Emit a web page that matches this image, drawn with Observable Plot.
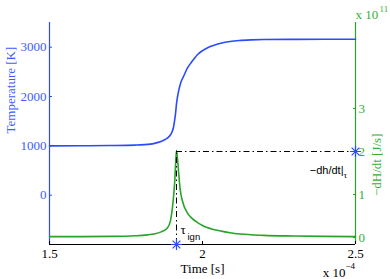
<!DOCTYPE html>
<html><head><meta charset="utf-8">
<script src="https://cdn.jsdelivr.net/npm/d3@7"></script>
<script src="https://cdn.jsdelivr.net/npm/@observablehq/plot@0.6"></script>
<style>
body{margin:0;background:#fff}
#chart svg, #chart svg text{font-family:'Liberation Serif','Times New Roman','DejaVu Serif',Times,serif}
#chart svg text.sans{font-family:'Liberation Sans',Arial,Helvetica,sans-serif}
</style>
</head><body><div id="chart"></div>
<script>
// Temperature trace (time in units of 1e-4 s)
const timeT = [1.50,1.60,1.70,1.78,1.83,1.852,1.870,1.885,1.895,1.901,1.906,1.909,1.912,1.915,1.9185,1.9226,1.927,1.932,1.939,1.951,1.962,1.972,1.984,2.000,2.020,2.040,2.060,2.090,2.120,2.160,2.200,2.300,2.400,2.500];
const tempK = [1000,1002,1006,1015,1035,1065,1105,1155,1220,1290,1400,1520,1660,1850,2000,2130,2240,2330,2420,2580,2680,2760,2850,2930,3000,3045,3080,3115,3135,3148,3154,3158,3160,3160];
// Heat release rate trace (x 1e11 J/s)
const timeH = [1.50,1.60,1.70,1.78,1.82,1.841,1.865,1.885,1.895,1.901,1.906,1.9095,1.912,1.915,1.918,1.9225,1.927,1.934,1.950,1.965,1.983,2.000,2.015,2.040,2.060,2.090,2.124,2.200,2.300,2.400,2.500];
const heatRate = [0.02,0.021,0.025,0.04,0.06,0.08,0.13,0.22,0.38,0.65,1.0,1.33,1.7,2.02,1.85,1.47,1.12,0.86,0.58,0.45,0.35,0.28,0.23,0.18,0.15,0.11,0.08,0.05,0.035,0.025,0.02];

const xTicks = [1.5, 2, 2.5];
const leftTicks = [0, 1000, 2000, 3000];
const rightTicks = [0, 1, 2, 3];
const tauIgn = 1.915;
const peakRate = 2.0;

const leftDomain = [-1000, 3500];
const rightDomain = [-0.163, 5.0];
const toLeft = d3.scaleLinear().domain(rightDomain).range(leftDomain);

const blue = "#2a4bff", blueText = "#3d5cff";
const green = "#29a329", greenText = "#33b033";

const tempData = timeT.map((t, i) => ({t, v: tempK[i]}));
const heatData = timeH.map((t, i) => ({t, v: toLeft(heatRate[i])}));
const dash = "6,3,1.5,3";

const chart = Plot.plot({
  width: 390, height: 279,
  marginLeft: 49, marginRight: 35, marginTop: 22, marginBottom: 35,
  style: {fontSize: "13px", background: "white", overflow: "visible"},
  x: {domain: [1.5, 2.5], axis: null},
  y: {domain: leftDomain, axis: null},
  marks: [
    Plot.ruleY([-1000], {stroke: "black", strokeWidth: 1.2}),
    Plot.ruleX([1.5], {stroke: blue, strokeWidth: 1.2}),
    Plot.ruleX([2.5], {stroke: green, strokeWidth: 1.2}),
    Plot.axisX(xTicks, {anchor: "bottom", tickSize: 3, dy: -3, fill: "none", stroke: "black"}),
    Plot.axisY(leftTicks, {anchor: "left", tickSize: 3, dx: 3, fill: "none", stroke: blue}),
    Plot.axisY(rightTicks.map(toLeft), {anchor: "right", tickSize: 3, dx: -3, fill: "none", stroke: green}),
    Plot.axisX(xTicks, {anchor: "bottom", tickSize: 0, tickPadding: 4, fill: "black", fontSize: 13, label: null, tickFormat: d => String(d)}),
    Plot.axisY(leftTicks, {anchor: "left", tickSize: 0, tickPadding: 3, fill: blueText, fontSize: 13, label: null, tickFormat: d => String(d)}),
    Plot.axisY(rightTicks.map(toLeft), {anchor: "right", tickSize: 0, tickPadding: 3, fill: greenText, fontSize: 13, label: null, tickFormat: d => String(Math.round(toLeft.invert(d)))}),
    Plot.line(tempData, {x: "t", y: "v", stroke: blue, strokeWidth: 1.6, curve: "monotone-x"}),
    Plot.line(heatData, {x: "t", y: "v", stroke: green, strokeWidth: 1.6, curve: "monotone-x"}),
    Plot.ruleX([tauIgn], {y1: -1000, y2: toLeft(peakRate), stroke: "black", strokeDasharray: dash, strokeWidth: 1}),
    Plot.ruleY([toLeft(peakRate)], {x1: tauIgn, x2: 2.5, stroke: "black", strokeDasharray: dash, strokeWidth: 1}),
    Plot.dot([{t: tauIgn, v: -1000}, {t: 2.5, v: toLeft(peakRate)}], {x: "t", y: "v", symbol: "plus", r: 3.6, stroke: blue, strokeWidth: 1.2}),
    Plot.dot([{t: tauIgn, v: -1000}, {t: 2.5, v: toLeft(peakRate)}], {x: "t", y: "v", symbol: "times", r: 3.6, stroke: blue, strokeWidth: 1.2}),
    Plot.text(["τ"], {x: tauIgn, y: -1000, dx: 4, dy: -11, textAnchor: "start", lineAnchor: "bottom", fontSize: 13, fill: "black"}),
    Plot.text(["ign"], {x: tauIgn, y: -1000, dx: 11, dy: -5, textAnchor: "start", lineAnchor: "bottom", fontSize: 9.5, fill: "black", className: "sansA"}),
    Plot.text(["−dh/dt|"], {x: 2.5, y: toLeft(peakRate), dx: -12, dy: 23, textAnchor: "end", lineAnchor: "bottom", fontSize: 11, fill: "black", className: "sansB"}),
    Plot.text(["τ"], {x: 2.5, y: toLeft(peakRate), dx: -12, dy: 27, textAnchor: "start", lineAnchor: "bottom", fontSize: 9, fill: "black"}),
    Plot.text(["Temperature [K]"], {frameAnchor: "left", dx: -39, rotate: -90, fontSize: 13, fill: blueText}),
    Plot.text(["−dH/dt [J/s]"], {frameAnchor: "right", dx: 21, rotate: -90, fontSize: 13, fill: greenText}),
    Plot.text(["Time [s]"], {frameAnchor: "bottom", dy: 28, lineAnchor: "bottom", fontSize: 13, fill: "black"}),
    Plot.text(["x 10"], {frameAnchor: "top-right", dx: 0, dy: -4, textAnchor: "start", lineAnchor: "bottom", fontSize: 13, fill: greenText}),
    Plot.text(["11"], {frameAnchor: "top-right", dx: 24, dy: -11, textAnchor: "start", lineAnchor: "bottom", fontSize: 9, fill: greenText}),
    Plot.text(["x 10"], {frameAnchor: "bottom-right", dx: -10, dy: 32, textAnchor: "end", lineAnchor: "bottom", fontSize: 13, fill: "black"}),
    Plot.text(["−4"], {frameAnchor: "bottom-right", dx: -10, dy: 24, textAnchor: "start", lineAnchor: "bottom", fontSize: 9, fill: "black"})
  ]
});
chart.querySelectorAll("g.sansA text, g.sansB text").forEach(t => t.classList.add("sans"));
document.getElementById("chart").appendChild(chart);
</script>
</body></html>
